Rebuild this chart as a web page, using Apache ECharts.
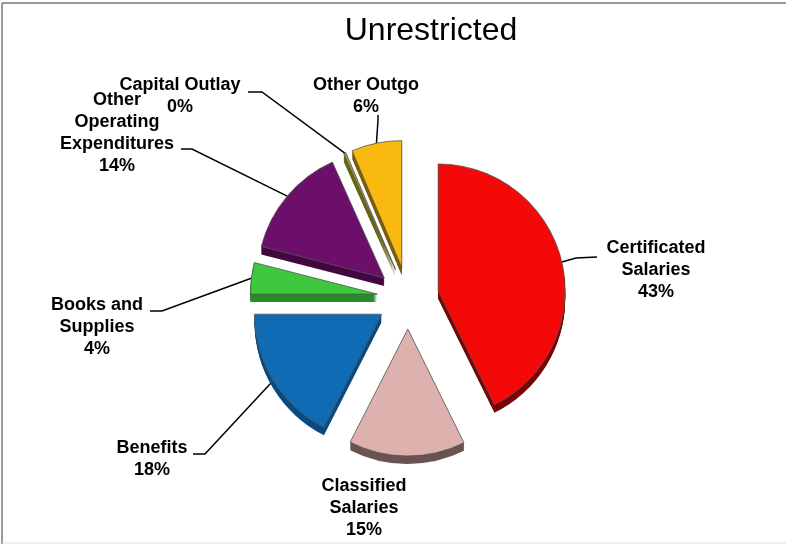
<!DOCTYPE html>
<html>
<head>
<meta charset="utf-8">
<style>html,body{margin:0;padding:0;background:#fff}#chart{width:786px;height:544px}</style>
<script src="https://cdn.jsdelivr.net/npm/echarts@6/dist/echarts.min.js"></script>
</head>
<body>
<div id="chart"></div>
<script>
// Unrestricted expenditures by category, in percent
const categories = ['Certificated\nSalaries', 'Classified\nSalaries', 'Benefits', 'Books and\nSupplies',
  'Other\nOperating\nExpenditures', 'Capital Outlay', 'Other Outgo'];
const shares = [42.7, 14.8, 17.5, 4.0, 14.3, 0.3, 6.4];

const faceColors = ['#f40808', '#dcb1ae', '#0f6cb4', '#3dc83d', '#6b0f6b', '#a39a35', '#f9b90f'];
const sideColors = ['#760606', '#6b5353', '#0a4a82', '#278c27', '#430842', '#6b6418', '#7d5f08'];

// Label centres and the elbow of each leader line
const labelCentres = [[656, 270], [364, 508], [152, 459], [97, 327], [117, 133], [180, 96.5], [366, 96.5]];
const leaderElbows = [[576, 258], null, [205, 454], [162, 311], [192, 149], [262, 92], [378, 120]];
const leaderEnds = [[597, 257], null, [193, 454], [150, 311], [181, 149], [248, 92], [378, 115]];

const pieCenter = [408, 298];
const pieRadius = 127;
const explode = 31;
const depth = 8;
const fontFamily = '"Liberation Sans", Arial, sans-serif';

function slices(colors, selected) {
  return shares.map((value, i) => ({
    name: categories[i],
    value,
    selected,
    itemStyle: { color: colors ? colors[i] : 'rgba(0,0,0,0)' }
  }));
}

const basePie = {
  type: 'pie',
  radius: pieRadius,
  startAngle: 90,
  clockwise: true,
  selectedMode: 'multiple',
  selectedOffset: explode,
  avoidLabelOverlap: false,
  minShowLabelAngle: 0,
  animation: false,
  emphasis: { disabled: true }
};

// The extruded side of the pie: darker copies stacked downward under the face
const series = [];
for (let d = depth; d >= 1; d--) {
  series.push(Object.assign({}, basePie, {
    silent: true,
    center: [pieCenter[0], pieCenter[1] + d],
    data: slices(sideColors, true),
    label: { show: false },
    labelLine: { show: false }
  }));
}

// The exploded top face
series.push(Object.assign({}, basePie, {
  center: pieCenter,
  data: slices(faceColors, true),
  itemStyle: { borderColor: '#555', borderWidth: 0.8 },
  label: { show: false },
  labelLine: { show: false }
}));

// Labels and leader lines; a leader starts on the arc of its exploded slice
series.push(Object.assign({}, basePie, {
  silent: true,
  selectedMode: false,
  center: pieCenter,
  data: slices(null, false),
  label: {
    show: true,
    position: 'outside',
    formatter: p => p.name + '\n' + Math.round(p.value) + '%',
    fontFamily,
    fontWeight: 'bold',
    fontSize: 18,
    lineHeight: 22,
    color: '#000',
    align: 'center',
    verticalAlign: 'middle'
  },
  labelLine: { show: true, lineStyle: { color: '#000', width: 1.5 } },
  labelLayout: params => {
    const i = params.dataIndex;
    const layout = { x: labelCentres[i][0], y: labelCentres[i][1], align: 'center', verticalAlign: 'middle' };
    if (leaderElbows[i] && params.labelLinePoints) {
      const p = params.labelLinePoints[0];
      const dx = p[0] - pieCenter[0];
      const dy = p[1] - pieCenter[1];
      const k = (pieRadius + explode) / Math.hypot(dx, dy);
      const start = [pieCenter[0] + dx * k, pieCenter[1] + dy * k];
      layout.labelLinePoints = [start, leaderElbows[i], leaderEnds[i]];
    } else {
      const c = labelCentres[i];
      layout.labelLinePoints = [c, c, c];
    }
    return layout;
  }
}));

const chart = echarts.init(document.getElementById('chart'), null, { renderer: 'canvas' });
chart.setOption({
  animation: false,
  backgroundColor: '#fff',
  title: {
    text: 'Unrestricted',
    left: 426,
    top: 10,
    textAlign: 'center',
    textStyle: { fontFamily, fontWeight: 'normal', fontSize: 32, color: '#000' }
  },
  graphic: [
    { type: 'line', shape: { x1: 2, y1: 3, x2: 786, y2: 3 }, style: { stroke: '#777', lineWidth: 1.5 } },
    { type: 'line', shape: { x1: 2, y1: 3, x2: 2, y2: 544 }, style: { stroke: '#777', lineWidth: 1.5 } },
    { type: 'line', shape: { x1: 2, y1: 543, x2: 786, y2: 543 }, style: { stroke: '#ddd', lineWidth: 1 } }
  ],
  series
});
</script>
</body>
</html>
